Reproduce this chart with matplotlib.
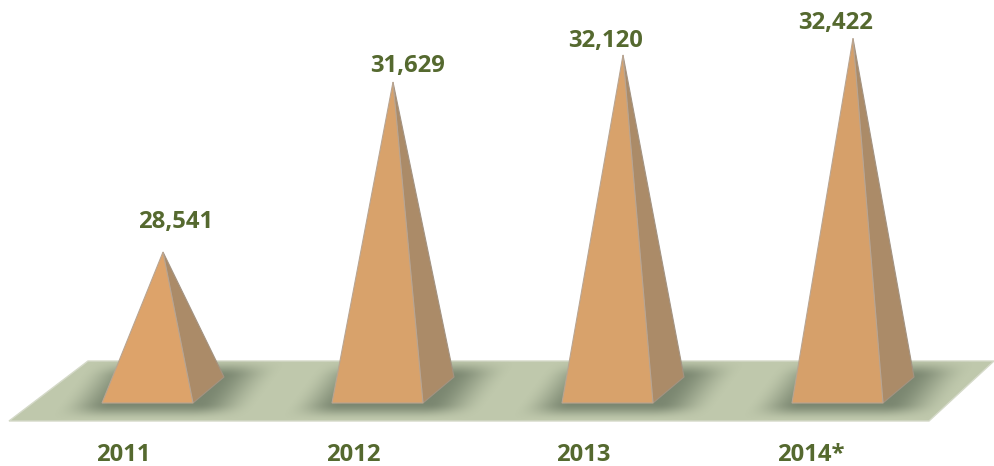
import numpy as np
import matplotlib
matplotlib.use("Agg")
import matplotlib.pyplot as plt
from matplotlib.patches import Polygon

# ---- data ----
years = ["2011", "2012", "2013", "2014*"]
values = [28541, 31629, 32120, 32422]
value_labels = ["28,541", "31,629", "32,120", "32,422"]

# ---- layout (figure pixels) ----
W, H = 994, 466
X0, STEP = 163, 230          # pixel x of first apex, spacing
PX_PER_UNIT = 170 / (31629 - 28541)
BASE_PX, APEX0_PX = 403, 252
floor_px = [(9, 421), (929, 421), (994, 361), (88, 361)]
value_label_dx = [13, 15, -17, -17]
value_label_gap = [-30, -16, -14, -15]
year_label_dx = [-40, -40, -40, -42]
front_colors = ["#DDA36A", "#D8A26B", "#D8A26B", "#D6A06A"]

fig = plt.figure(figsize=(W / 100, H / 100), dpi=100)
ax = fig.add_axes([0, 0, 1, 1])
# x axis: category index; y axis: value scale (pixel rows map linearly to values)
ax.set_xlim((0 - X0) / STEP, (W - X0) / STEP)
val_at = lambda py: values[0] + (APEX0_PX - py) / PX_PER_UNIT
ax.set_ylim(val_at(H), val_at(0))
ax.axis("off")


def P(px, py):
    return ((px - X0) / STEP, val_at(py))


floor = Polygon([P(*p) for p in floor_px], closed=True, fc="#BFC8AC",
                ec="#D4D9C8", lw=1, zorder=1)
ax.add_patch(floor)

# soft shadow under each pyramid, computed on a pixel grid
yy, xx = np.mgrid[0:H, 0:W]


def smooth(t):
    t = np.clip(t, 0, 1)
    return t * t * (3 - 2 * t)


for i in range(len(values)):
    cx = X0 + i * STEP
    sk = (403 - yy) * 0.75           # skew following the floor perspective
    u = xx - cx - sk
    a = smooth((u + 105) / 55) * smooth((95 - u) / 60)
    b = smooth((yy - 358) / 18) * smooth((420 - yy) / 17)
    alpha = 0.64 * a * b
    rgba = np.zeros((H, W, 4))
    rgba[..., :3] = matplotlib.colors.to_rgb("#55624F")
    rgba[..., 3] = alpha
    im = ax.imshow(rgba, extent=ax.get_xlim() + ax.get_ylim(), origin="upper",
                   aspect="auto", zorder=2, interpolation="bilinear")
    im.set_clip_path(floor)
ax.set_xlim((0 - X0) / STEP, (W - X0) / STEP)
ax.set_ylim(val_at(H), val_at(0))

# pyramids
for i, v in enumerate(values):
    cx = X0 + i * STEP
    base_left = P(cx - 61, BASE_PX)
    base_right = P(cx + 30, BASE_PX)
    back = P(cx + 61, 377)
    apex = (i, v)
    side = Polygon([apex, base_right, back], closed=True, fc="#AB8B68",
                   ec="#A39382", lw=0.8, zorder=3)
    front = Polygon([apex, base_left, base_right], closed=True, fc=front_colors[i],
                    ec="#B9A592", lw=0.8, zorder=4)
    ax.add_patch(side)
    ax.add_patch(front)

# labels
txt = dict(family="Open Sans", fontweight="bold", color="#55692F", fontsize=17.2,
           ha="center", va="center")
for i, (v, lab) in enumerate(zip(values, value_labels)):
    ax.annotate(lab, xy=(i, v), xytext=(value_label_dx[i] * 0.72, -value_label_gap[i] * 0.72),
                textcoords="offset points", **txt)
    ax.annotate(years[i], xy=(i, val_at(455)), xytext=(year_label_dx[i] * 0.72, 0),
                textcoords="offset points", **txt)

fig.savefig("out.png", dpi=100, facecolor="white")
